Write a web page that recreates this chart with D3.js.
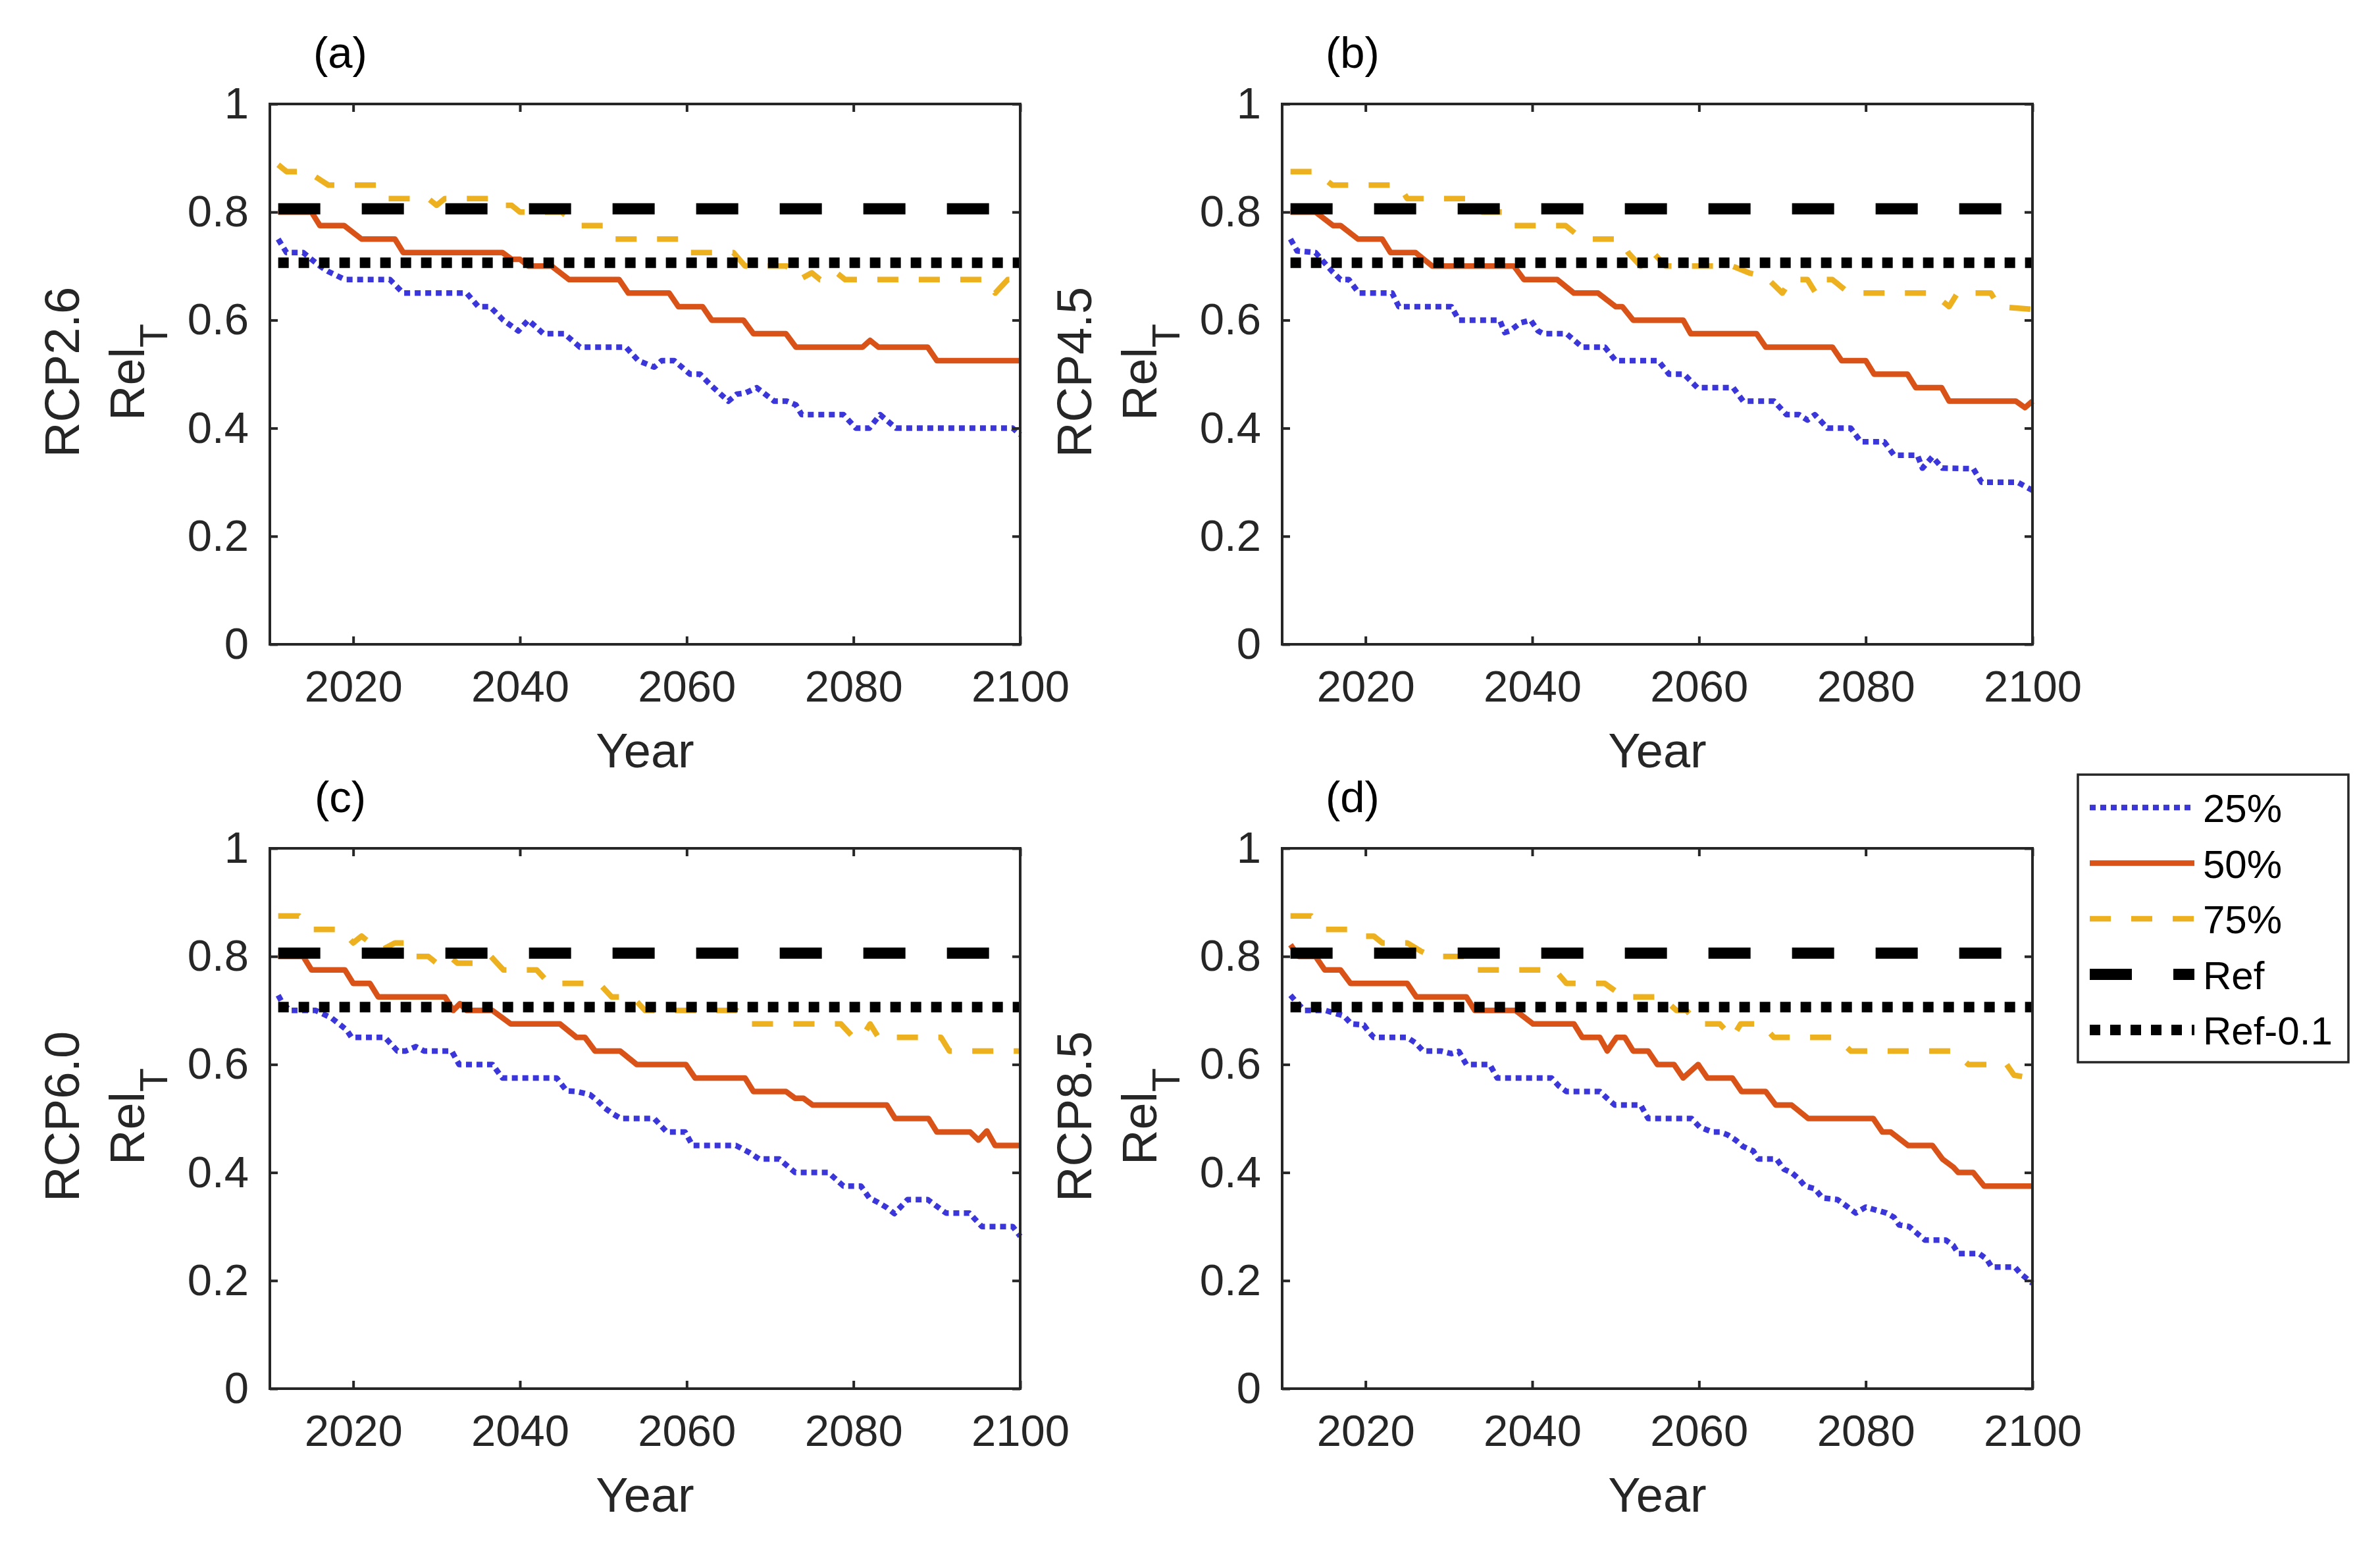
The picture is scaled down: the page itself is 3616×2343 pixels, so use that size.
<!DOCTYPE html>
<html>
<head>
<meta charset="utf-8">
<script src="https://cdn.jsdelivr.net/npm/d3@7"></script>
<style>
  body { margin: 0; background: #fff; }
  svg { display: block; }
</style>
</head>
<body>
<div id="root"></div>
<script>
// values, [year, RelT]
var scenarios = ["RCP2.6", "RCP4.5", "RCP6.0", "RCP8.5"];
var panelLabels = ["(a)", "(b)", "(c)", "(d)"];
var xTicks = [2020, 2040, 2060, 2080, 2100];
var yTicks = [0, 0.2, 0.4, 0.6, 0.8, 1];
var legendLabels = ["25%", "50%", "75%", "Ref", "Ref-0.1"];
var refValue = 0.806;
var refMinus = 0.706;
var refYears = [2011, 2100];

// RCP2.6
var p25_a = [[2011,0.75],[2012,0.725],[2014,0.725],[2016,0.7],[2017,0.69],[2019,0.675],[2024.4,0.675],[2026,0.65],[2033.6,0.65],[2035,0.625],[2036.4,0.625],[2038,0.6],[2039.8,0.58],[2041,0.6],[2042.8,0.575],[2045.3,0.575],[2047.2,0.55],[2052.7,0.55],[2054.2,0.525],[2056.1,0.513],[2057,0.525],[2058.5,0.525],[2060.4,0.5],[2061.6,0.5],[2063,0.478],[2065,0.45],[2066,0.463],[2067,0.465],[2068.4,0.475],[2070.5,0.45],[2072,0.45],[2073.1,0.443],[2073.8,0.425],[2078.8,0.425],[2080.3,0.4],[2081.9,0.4],[2083.2,0.425],[2085.1,0.4],[2099.1,0.4],[2100,0.388]];
var p50_a = [[2011,0.8],[2015,0.8],[2016,0.775],[2018.9,0.775],[2021,0.75],[2025,0.75],[2026,0.725],[2037.9,0.725],[2039,0.7125],[2040,0.7125],[2041,0.7],[2043.8,0.7],[2045.9,0.675],[2051.9,0.675],[2053,0.65],[2057.9,0.65],[2059,0.625],[2061.9,0.625],[2063,0.6],[2066.8,0.6],[2068,0.575],[2071.9,0.575],[2073.1,0.55],[2081.1,0.55],[2082,0.5625],[2083,0.55],[2088.9,0.55],[2090,0.525],[2100,0.525]];
var p75_a = [[2011,0.8875],[2012,0.875],[2014.5,0.875],[2017,0.85],[2023,0.85],[2024,0.825],[2029,0.825],[2030,0.8125],[2031,0.825],[2037,0.825],[2038,0.8125],[2039,0.8125],[2040,0.8],[2045,0.8],[2047,0.775],[2050,0.775],[2051,0.75],[2059,0.75],[2060,0.725],[2065.6,0.725],[2067,0.7],[2072,0.7],[2073.5,0.675],[2075,0.6875],[2076,0.675],[2077,0.675],[2078,0.6875],[2079,0.675],[2096,0.675],[2097,0.65],[2098.5,0.675],[2100,0.675]];

// RCP4.5
var p25_b = [[2011,0.75],[2011.8,0.728],[2014,0.725],[2016,0.69],[2017,0.675],[2018,0.675],[2019.2,0.65],[2023.2,0.65],[2024,0.625],[2030.3,0.625],[2031.2,0.6],[2036.1,0.6],[2036.7,0.577],[2037.3,0.58],[2038.6,0.595],[2039.8,0.6],[2040.7,0.58],[2041.3,0.575],[2044.1,0.575],[2046,0.55],[2048.7,0.55],[2050,0.525],[2055.1,0.525],[2056.4,0.5],[2058.2,0.5],[2059.8,0.475],[2064.1,0.475],[2065.3,0.45],[2069,0.45],[2070.5,0.425],[2072,0.425],[2073,0.415],[2073.9,0.425],[2074.8,0.41],[2075.4,0.4],[2078.2,0.4],[2079.4,0.375],[2082.2,0.375],[2083.4,0.35],[2086.2,0.35],[2086.8,0.326],[2088,0.347],[2089.2,0.326],[2092.9,0.325],[2093.9,0.3],[2098.2,0.3],[2100,0.285]];
var p50_b = [[2011,0.8],[2014,0.8],[2016.1,0.775],[2017,0.775],[2019.1,0.75],[2022,0.75],[2023,0.725],[2026,0.725],[2028,0.7],[2037.8,0.7],[2039,0.675],[2043,0.675],[2045,0.65],[2047.9,0.65],[2050,0.625],[2050.8,0.625],[2052.1,0.6],[2058.1,0.6],[2059,0.575],[2066.9,0.575],[2068,0.55],[2076,0.55],[2077.1,0.525],[2080,0.525],[2081,0.5],[2085,0.5],[2086,0.475],[2089.1,0.475],[2090,0.45],[2098,0.45],[2099.1,0.438],[2100,0.45]];
var p75_b = [[2011,0.875],[2014,0.875],[2016,0.85],[2024,0.85],[2025,0.825],[2032,0.825],[2034,0.8],[2036.5,0.8],[2037.5,0.775],[2044,0.775],[2046,0.75],[2050.5,0.75],[2051.5,0.725],[2053,0.7],[2054.5,0.725],[2056,0.7],[2064,0.7],[2066,0.6875],[2068,0.68],[2070,0.65],[2071,0.675],[2073,0.675],[2074,0.65],[2075,0.675],[2076,0.675],[2078,0.65],[2088,0.65],[2090,0.625],[2091,0.65],[2095,0.65],[2096,0.625],[2100,0.62]];

// RCP6.0
var p25_c = [[2011,0.728],[2011.5,0.714],[2012.4,0.7],[2015.5,0.7],[2017.4,0.686],[2018.3,0.675],[2019.2,0.664],[2019.8,0.65],[2023.8,0.65],[2025.3,0.625],[2026.3,0.625],[2027.5,0.633],[2028.5,0.625],[2031.8,0.625],[2032.7,0.6],[2036.7,0.6],[2037.9,0.575],[2044.4,0.575],[2045.6,0.551],[2046.8,0.55],[2048.4,0.544],[2049.3,0.533],[2050.2,0.519],[2051.1,0.509],[2052.1,0.5],[2056.1,0.5],[2057.6,0.475],[2059.8,0.475],[2060.7,0.45],[2065.9,0.45],[2067.4,0.438],[2068.7,0.425],[2071.1,0.425],[2073,0.4],[2077,0.4],[2078.8,0.375],[2080.9,0.375],[2081.9,0.353],[2082.8,0.346],[2084,0.335],[2084.9,0.324],[2086.5,0.35],[2088.9,0.35],[2091.1,0.325],[2093.9,0.325],[2095.4,0.3],[2099.1,0.3],[2100,0.282]];
var p50_c = [[2011,0.8],[2014,0.8],[2015,0.775],[2019,0.775],[2020,0.75],[2022,0.75],[2023,0.725],[2031,0.725],[2032,0.7],[2032.8,0.7125],[2033.6,0.7],[2036.7,0.7],[2038.9,0.675],[2044.8,0.675],[2046.8,0.65],[2047.8,0.65],[2049,0.625],[2052,0.625],[2054,0.6],[2059.9,0.6],[2061,0.575],[2067,0.575],[2068,0.55],[2071.9,0.55],[2073,0.5375],[2074,0.5375],[2075.1,0.525],[2084,0.525],[2085,0.5],[2089,0.5],[2090,0.475],[2094,0.475],[2095,0.46],[2096,0.477],[2097,0.45],[2100,0.45]];
var p75_c = [[2011,0.875],[2013.5,0.875],[2015,0.85],[2018.5,0.85],[2020,0.825],[2021,0.8375],[2022,0.825],[2023.5,0.8125],[2025,0.825],[2026.5,0.825],[2027.5,0.8],[2029,0.8],[2030,0.7875],[2031.5,0.8],[2032.5,0.7875],[2035,0.7875],[2036.5,0.8],[2038,0.775],[2042,0.775],[2043.5,0.75],[2049.5,0.75],[2051,0.725],[2053.5,0.725],[2055,0.7],[2066,0.7],[2067.5,0.675],[2078.5,0.675],[2080,0.65],[2081,0.65],[2082,0.675],[2083,0.65],[2090.5,0.65],[2091.5,0.625],[2100,0.625]];

// RCP8.5
var p25_d = [[2011,0.728],[2011.8,0.714],[2012.7,0.7],[2015.2,0.7],[2017.4,0.69],[2018.3,0.675],[2019.8,0.673],[2020.4,0.66],[2021,0.65],[2025,0.65],[2026,0.64],[2026.9,0.625],[2029,0.625],[2030.3,0.62],[2031.2,0.624],[2032.1,0.6],[2034.9,0.6],[2035.8,0.575],[2042.3,0.575],[2043.2,0.56],[2044.1,0.55],[2048.1,0.55],[2049,0.537],[2049.9,0.525],[2053,0.525],[2053.9,0.5],[2059.1,0.5],[2060.1,0.484],[2061.6,0.475],[2062.5,0.475],[2063.4,0.47],[2064.4,0.46],[2065.3,0.448],[2066.5,0.44],[2067.1,0.425],[2069.3,0.425],[2070.2,0.406],[2071.1,0.4],[2072,0.388],[2072.7,0.375],[2073.9,0.37],[2074.8,0.353],[2076.6,0.35],[2077.6,0.339],[2078.8,0.325],[2080,0.336],[2082.5,0.325],[2083.4,0.317],[2084,0.303],[2085.2,0.3],[2086.5,0.283],[2087.1,0.275],[2089.6,0.275],[2090.5,0.265],[2091.1,0.25],[2093.6,0.25],[2094.5,0.24],[2095.1,0.225],[2097.9,0.225],[2098.5,0.214],[2100,0.195]];
var p50_d = [[2011,0.8215],[2012,0.8],[2014,0.8],[2015.1,0.775],[2017,0.775],[2018.2,0.75],[2025,0.75],[2026.1,0.725],[2032.1,0.725],[2033.1,0.7],[2038,0.7],[2040.1,0.675],[2045,0.675],[2046,0.65],[2048.1,0.65],[2049,0.625],[2050.1,0.65],[2051.1,0.65],[2052.1,0.625],[2053.9,0.625],[2055,0.6],[2057,0.6],[2058.1,0.575],[2059.9,0.6],[2061,0.575],[2064,0.575],[2065.1,0.55],[2068,0.55],[2069.2,0.525],[2071.1,0.525],[2073.1,0.5],[2080.9,0.5],[2082,0.475],[2083,0.475],[2085.1,0.45],[2088,0.45],[2089.2,0.425],[2090.5,0.41],[2091.1,0.4],[2092.9,0.4],[2094.2,0.375],[2100,0.375]];
var p75_d = [[2011,0.875],[2013.5,0.875],[2015,0.85],[2018,0.85],[2019.8,0.8375],[2021,0.8375],[2022,0.825],[2025,0.825],[2026.6,0.81],[2028,0.8],[2031.8,0.8],[2033,0.775],[2042.7,0.775],[2044.1,0.75],[2048.7,0.75],[2049.6,0.74],[2051,0.725],[2055.5,0.725],[2057.3,0.7],[2058.5,0.7],[2060,0.675],[2062.5,0.675],[2064,0.65],[2065,0.675],[2067.5,0.675],[2069,0.65],[2076.5,0.65],[2078.2,0.625],[2090.5,0.625],[2092.3,0.6],[2096.9,0.6],[2097.8,0.58],[2100,0.575]];

var q25 = [p25_a, p25_b, p25_c, p25_d];
var q50 = [p50_a, p50_b, p50_c, p50_d];
var q75 = [p75_a, p75_b, p75_c, p75_d];

// sizes
var svgWidth = 3616;
var svgHeight = 2343;
var plotW = 1140;
var plotH = 821;
var lefts = [410, 1948];
var tops = [158, 1289];
var font = "'Liberation Sans', Arial, Helvetica, sans-serif";
var axisColor = "#262626";

// line styles, same order as legendLabels
var styles = [
  {color: "#3B36DA", width: 8.5, dash: "9,7"},
  {color: "#D95319", width: 8.5, dash: null},
  {color: "#EDB120", width: 8.5, dash: "32,31"},
  {color: "#000000", width: 17, dash: "64,63"},
  {color: "#000000", width: 16, dash: "16,15"}
];

var svg = d3.select("#root").append("svg")
  .attr("width", svgWidth).attr("height", svgHeight)
  .style("background", "#fff");

function drawPanel(i) {
  var left = lefts[i % 2];
  var top = tops[Math.floor(i / 2)];

  var x = d3.scaleLinear().domain([2010, 2100]).range([left, left + plotW]);
  var y = d3.scaleLinear().domain([0, 1]).range([top + plotH, top]);

  var g = svg.append("g");

  var line = d3.line().x(d => x(d[0])).y(d => y(d[1]));

  var series = [q25[i], q50[i], q75[i],
    refYears.map(yr => [yr, refValue]),
    refYears.map(yr => [yr, refMinus])];

  series.forEach(function (s, k) {
    g.append("path")
      .attr("d", line(s))
      .attr("fill", "none")
      .attr("stroke", styles[k].color)
      .attr("stroke-width", styles[k].width)
      .attr("stroke-dasharray", styles[k].dash)
      .attr("stroke-linejoin", "round")
      .attr("stroke-linecap", "butt");
  });

  // axes, ticks inside on all four sides
  var fmtY = d => (d === 0 || d === 1) ? String(d) : d.toFixed(1);

  function style(ax) {
    ax.select(".domain").remove();
    ax.selectAll(".tick line").attr("stroke", axisColor).attr("stroke-width", 4);
    ax.selectAll("text").attr("fill", axisColor)
      .style("font-family", font).style("font-size", "67px");
  }

  g.append("g").attr("transform", `translate(0,${top + plotH})`)
    .call(d3.axisBottom(x).tickValues(xTicks).tickSize(-12).tickSizeOuter(0)
      .tickPadding(39).tickFormat(d3.format("d")))
    .call(style);
  g.append("g").attr("transform", `translate(0,${top})`)
    .call(d3.axisTop(x).tickValues(xTicks).tickSize(-12).tickSizeOuter(0).tickFormat(""))
    .call(style);
  g.append("g").attr("transform", `translate(${left},0)`)
    .call(d3.axisLeft(y).tickValues(yTicks).tickSize(-12).tickSizeOuter(0)
      .tickPadding(32).tickFormat(fmtY))
    .call(style);
  g.append("g").attr("transform", `translate(${left + plotW},0)`)
    .call(d3.axisRight(y).tickValues(yTicks).tickSize(-12).tickSizeOuter(0).tickFormat(""))
    .call(style);

  g.append("rect")
    .attr("x", left).attr("y", top).attr("width", plotW).attr("height", plotH)
    .attr("fill", "none").attr("stroke", axisColor).attr("stroke-width", 4);

  // panel letter
  g.append("text")
    .attr("x", left + 107).attr("y", top - 55)
    .attr("text-anchor", "middle")
    .style("font-family", font).style("font-size", "67px")
    .attr("fill", "#000")
    .text(panelLabels[i]);

  // x label
  g.append("text")
    .attr("x", left + plotW / 2).attr("y", top + plotH + 187)
    .attr("text-anchor", "middle")
    .style("font-family", font).style("font-size", "74px")
    .attr("fill", axisColor)
    .text("Year");

  // y label, two lines
  var yl = g.append("g")
    .attr("transform", `translate(${left - 290},${top + plotH / 2 - 3}) rotate(-90)`)
    .style("font-family", font).style("font-size", "74px")
    .attr("fill", axisColor)
    .attr("text-anchor", "middle");
  yl.append("text").attr("x", 0).attr("y", 0).text(scenarios[i]);
  var rel = yl.append("text").attr("x", 0).attr("y", 99);
  rel.append("tspan").text("Rel");
  rel.append("tspan").attr("dy", 35).style("font-size", "59px").text("T");
}

for (let i = 0; i < 4; i++) drawPanel(i);

// legend
var lg = svg.append("g");
lg.append("rect")
  .attr("x", 3157).attr("y", 1177).attr("width", 411).attr("height", 437)
  .attr("fill", "#fff").attr("stroke", axisColor).attr("stroke-width", 3.5);

legendLabels.forEach(function (name, k) {
  var ry = 1227 + k * 84.5;
  lg.append("line")
    .attr("x1", 3175).attr("x2", 3334).attr("y1", ry).attr("y2", ry)
    .attr("stroke", styles[k].color)
    .attr("stroke-width", styles[k].width)
    .attr("stroke-dasharray", styles[k].dash);
  lg.append("text")
    .attr("x", 3347).attr("y", ry + 22)
    .style("font-family", font).style("font-size", "60px")
    .attr("fill", "#000")
    .text(name);
});
</script>
</body>
</html>
